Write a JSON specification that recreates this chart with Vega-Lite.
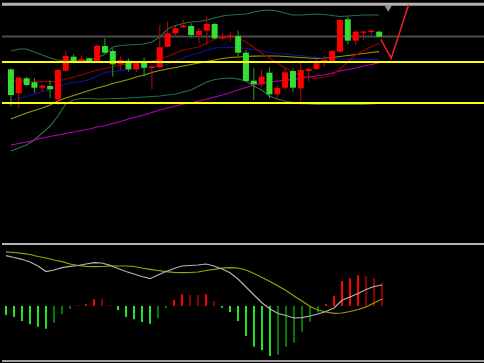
{
  "$schema": "https://vega.github.io/schema/vega-lite/v6.json",
  "background": "#000000",
  "padding": 0,
  "spacing": 0,
  "config": {"view": {"stroke": null}, "axis": {"disable": true}},
  "datasets": {
    "d": [
      {"i":0,"o":172.7,"c":147,"h":173.5,"l":136,"k":"d","ub":191,"lb":91,"m1":161,"m2":141.5,"m3":123,"m4":97,"hs":-9,"hc":"G","md":50.3,"sg":54.2},
      {"i":1,"o":148.7,"c":164.3,"h":165.3,"l":134,"k":"u","ub":193,"lb":94,"m1":161,"m2":143.5,"m3":126,"m4":98.5,"hs":-11,"hc":"G","md":48.5,"sg":53.5},
      {"i":2,"o":163.7,"c":157,"h":165.3,"l":156,"k":"d","ub":193,"lb":97,"m1":161,"m2":145.5,"m3":129,"m4":100,"hs":-15,"hc":"G","md":46.7,"sg":52.7},
      {"i":3,"o":159.7,"c":154.3,"h":164,"l":149,"k":"d","ub":190,"lb":102,"m1":160.5,"m2":148,"m3":131.5,"m4":102,"hs":-18.3,"hc":"G","md":44,"sg":51.5},
      {"i":4,"o":154.3,"c":156.3,"h":158,"l":150.3,"k":"u","ub":187,"lb":109,"m1":160.3,"m2":150.5,"m3":134,"m4":104,"hs":-20.7,"hc":"G","md":40,"sg":49.5},
      {"i":5,"o":156,"c":152.7,"h":162,"l":144,"k":"d","ub":184,"lb":116,"m1":160.3,"m2":153,"m3":137,"m4":105.5,"hs":-22.7,"hc":"G","md":34.5,"sg":48},
      {"i":6,"o":142.7,"c":172,"h":173.7,"l":137,"k":"u","ub":182,"lb":126,"m1":160.5,"m2":155.5,"m3":141,"m4":107,"hs":-16.7,"hc":"g","md":36,"sg":46},
      {"i":7,"o":171.3,"c":186,"h":191.3,"l":170.3,"k":"u","ub":181,"lb":138,"m1":163,"m2":158,"m3":144,"m4":108.5,"hs":-8.3,"hc":"g","md":38.3,"sg":44.3},
      {"i":8,"o":185.3,"c":179.7,"h":187.7,"l":178.7,"k":"d","ub":181,"lb":142,"m1":165,"m2":159.5,"m3":146.5,"m4":110,"hs":-2.7,"hc":"g","md":39.7,"sg":42},
      {"i":9,"o":181,"c":183,"h":186.7,"l":180,"k":"u","ub":181,"lb":143.5,"m1":167,"m2":160.5,"m3":149,"m4":111.5,"hs":1,"hc":"r","md":40.5,"sg":40.5},
      {"i":10,"o":183.7,"c":180.3,"h":184.5,"l":179.5,"k":"d","ub":182,"lb":143.5,"m1":169.5,"m2":162.5,"m3":151.5,"m4":113,"hs":2.3,"hc":"R","md":42,"sg":39.7},
      {"i":11,"o":180.3,"c":196.3,"h":197,"l":179.5,"k":"u","ub":184,"lb":143,"m1":172,"m2":166,"m3":154,"m4":115,"hs":6.7,"hc":"R","md":43.3,"sg":39.3},
      {"i":12,"o":196,"c":189.3,"h":203.7,"l":188.7,"k":"d","ub":188,"lb":143,"m1":173.5,"m2":169.3,"m3":156,"m4":116.5,"hs":6.7,"hc":"r","md":43,"sg":39.5},
      {"i":13,"o":191,"c":177.7,"h":193.7,"l":165.3,"k":"d","ub":195,"lb":143.5,"m1":175.5,"m2":170.5,"m3":158.5,"m4":118.5,"hs":1,"hc":"r","md":40.7,"sg":40},
      {"i":14,"o":177.7,"c":182,"h":185.3,"l":172,"k":"u","ub":196.5,"lb":143.5,"m1":177,"m2":171.3,"m3":160.5,"m4":120.5,"hs":-4.3,"hc":"G","md":37.5,"sg":40},
      {"i":15,"o":181.3,"c":172.7,"h":183.7,"l":170.3,"k":"d","ub":197,"lb":144,"m1":178,"m2":172.5,"m3":162.5,"m4":123,"hs":-11,"hc":"G","md":34.5,"sg":40},
      {"i":16,"o":172.7,"c":178.7,"h":180.3,"l":170.3,"k":"u","ub":197.5,"lb":144.5,"m1":178.5,"m2":173.5,"m3":165,"m4":125,"hs":-13.3,"hc":"G","md":32,"sg":39.5},
      {"i":17,"o":179.3,"c":174.3,"h":184.7,"l":165.3,"k":"d","ub":198,"lb":145,"m1":179.5,"m2":174,"m3":167,"m4":127,"hs":-16,"hc":"G","md":29.5,"sg":38},
      {"i":18,"o":174,"c":175.5,"h":177,"l":152.7,"k":"u","ub":200,"lb":145.5,"m1":181,"m2":174.5,"m3":169.5,"m4":129.5,"hs":-17.7,"hc":"G","md":27.3,"sg":36.7},
      {"i":19,"o":174.7,"c":194.7,"h":217,"l":173.7,"k":"u","ub":205,"lb":146,"m1":183,"m2":175.5,"m3":171.5,"m4":132,"hs":-12.3,"hc":"g","md":31,"sg":35.5},
      {"i":20,"o":195.3,"c":208.7,"h":220.3,"l":194.7,"k":"u","ub":213,"lb":147,"m1":185.5,"m2":178,"m3":173,"m4":134,"hs":-2.3,"hc":"g","md":34.5,"sg":34.3},
      {"i":21,"o":208.7,"c":213.7,"h":216,"l":207,"k":"u","ub":216.5,"lb":148,"m1":189,"m2":181,"m3":174.5,"m4":136,"hs":6,"hc":"R","md":37.5,"sg":33.7},
      {"i":22,"o":214.7,"c":216.5,"h":222,"l":214,"k":"u","ub":218.5,"lb":150,"m1":192,"m2":184,"m3":176,"m4":138,"hs":11.7,"hc":"R","md":40,"sg":33.3},
      {"i":23,"o":216,"c":207,"h":218.7,"l":204.3,"k":"d","ub":220,"lb":152,"m1":193.5,"m2":187,"m3":177.5,"m4":139,"hs":11,"hc":"r","md":40.5,"sg":33.5},
      {"i":24,"o":207,"c":211.3,"h":214,"l":199,"k":"u","ub":220.5,"lb":156,"m1":195,"m2":189,"m3":179,"m4":141,"hs":11,"hc":"r","md":41,"sg":34},
      {"i":25,"o":211.3,"c":218,"h":225.3,"l":197,"k":"u","ub":222,"lb":160,"m1":199,"m2":192,"m3":180.5,"m4":143,"hs":11.7,"hc":"R","md":42,"sg":35.5},
      {"i":26,"o":218,"c":203.7,"h":219.3,"l":202.7,"k":"d","ub":224,"lb":162.5,"m1":203,"m2":194,"m3":182,"m4":145,"hs":5,"hc":"r","md":40,"sg":36.7},
      {"i":27,"o":203.3,"c":204.8,"h":209.3,"l":202.7,"k":"u","ub":226,"lb":163.5,"m1":206,"m2":194.5,"m3":183.5,"m4":147,"hs":-1.7,"hc":"G","md":37,"sg":37.8},
      {"i":28,"o":204.7,"c":206.2,"h":210.3,"l":200.3,"k":"u","ub":227,"lb":164,"m1":206,"m2":194.7,"m3":184.5,"m4":149.5,"hs":-6,"hc":"G","md":33.3,"sg":38.3},
      {"i":29,"o":206,"c":189.3,"h":211.3,"l":186,"k":"d","ub":227.5,"lb":163,"m1":204,"m2":194.5,"m3":185,"m4":152,"hs":-15,"hc":"G","md":27,"sg":38},
      {"i":30,"o":189.3,"c":161,"h":192,"l":160.3,"k":"d","ub":228,"lb":161,"m1":200,"m2":193.5,"m3":185.5,"m4":154.5,"hs":-30,"hc":"G","md":19,"sg":36},
      {"i":31,"o":161.3,"c":158,"h":173.7,"l":142,"k":"d","ub":230,"lb":156,"m1":194.5,"m2":192.5,"m3":185.8,"m4":157,"hs":-40.7,"hc":"G","md":11,"sg":32.5},
      {"i":32,"o":157.7,"c":165.3,"h":172.7,"l":154.7,"k":"u","ub":231.5,"lb":152,"m1":189,"m2":191,"m3":186,"m4":158.5,"hs":-44,"hc":"G","md":3.3,"sg":28.5},
      {"i":33,"o":169.3,"c":147.7,"h":174.7,"l":143.7,"k":"d","ub":232,"lb":146,"m1":184,"m2":189.5,"m3":186,"m4":160,"hs":-50,"hc":"G","md":-3,"sg":24.5},
      {"i":34,"o":147.7,"c":154.3,"h":157,"l":143.7,"k":"u","ub":231,"lb":143,"m1":179,"m2":188.5,"m3":186,"m4":161,"hs":-48.7,"hc":"g","md":-7.5,"sg":20},
      {"i":35,"o":154.3,"c":169.7,"h":173.7,"l":152,"k":"u","ub":229,"lb":141,"m1":174,"m2":188,"m3":185.5,"m4":161.8,"hs":-40.7,"hc":"g","md":-9.5,"sg":15.5},
      {"i":36,"o":171,"c":154.3,"h":173.7,"l":150.3,"k":"d","ub":227,"lb":139.5,"m1":170,"m2":187,"m3":185,"m4":162.5,"hs":-36.7,"hc":"g","md":-12,"sg":10},
      {"i":37,"o":153.7,"c":172,"h":180.3,"l":137,"k":"u","ub":227,"lb":138.5,"m1":166.5,"m2":186.5,"m3":184.5,"m4":163.5,"hs":-25.7,"hc":"g","md":-11.7,"sg":5},
      {"i":38,"o":171,"c":173,"h":175.3,"l":160.3,"k":"u","ub":227.5,"lb":138,"m1":164.5,"m2":185.5,"m3":184,"m4":165,"hs":-15.7,"hc":"g","md":-10,"sg":-0.5},
      {"i":39,"o":173,"c":178.7,"h":183.7,"l":172,"k":"u","ub":228,"lb":137.5,"m1":163.7,"m2":184.7,"m3":183.7,"m4":166,"hs":-6.7,"hc":"g","md":-8,"sg":-4},
      {"i":40,"o":180.8,"c":182.2,"h":186,"l":175.3,"k":"u","ub":227.5,"lb":137.5,"m1":164.5,"m2":184,"m3":184,"m4":167,"hs":2.3,"hc":"R","md":-5.5,"sg":-6},
      {"i":41,"o":180.3,"c":191,"h":192,"l":179.3,"k":"u","ub":226.5,"lb":137.5,"m1":167,"m2":183.5,"m3":184.5,"m4":169,"hs":10,"hc":"R","md":-2,"sg":-7.3},
      {"i":42,"o":190.3,"c":222,"h":222.7,"l":189.7,"k":"u","ub":225.5,"lb":137.5,"m1":173,"m2":183,"m3":185.5,"m4":171,"hs":25,"hc":"R","md":5.7,"sg":-7},
      {"i":43,"o":222.7,"c":201.3,"h":225.3,"l":197.7,"k":"d","ub":226,"lb":137.5,"m1":180,"m2":182.7,"m3":186.5,"m4":172.5,"hs":27.7,"hc":"R","md":9,"sg":-5.5},
      {"i":44,"o":201.3,"c":210.3,"h":212,"l":197,"k":"u","ub":226.5,"lb":137.5,"m1":187,"m2":182.7,"m3":187.5,"m4":174,"hs":30.7,"hc":"R","md":12.5,"sg":-3.5},
      {"i":45,"o":209.2,"c":210.5,"h":211.3,"l":202,"k":"u","ub":227,"lb":137.5,"m1":191.5,"m2":182.7,"m3":188.5,"m4":176,"hs":30,"hc":"r","md":16.5,"sg":-1},
      {"i":46,"o":210,"c":211.3,"h":212.7,"l":207,"k":"u","ub":227,"lb":138,"m1":195.3,"m2":182.7,"m3":189.5,"m4":177.5,"hs":27.7,"hc":"r","md":19.5,"sg":3},
      {"i":47,"o":210.3,"c":205.3,"h":211.3,"l":205,"k":"d","ub":227,"lb":138.5,"m1":198.7,"m2":182.7,"m3":190.3,"m4":179.3,"hs":22.7,"hc":"r","md":21,"sg":7}
    ],
    "proj": [{"i":47.21,"v":202.7},{"i":48.54,"v":183.7},{"i":50.75,"v":237}]
  },
  "vconcat": [
    {
      "width": 484,
      "height": 242,
      "resolve": {"scale": {"color": "independent"}},
      "layer": [
        {
          "data": {"values": [{"v":205.5}]},
          "mark": {"type":"rule","color":"#4a4a4a","strokeWidth":2},
          "encoding": {"y": {"field":"v","type":"quantitative","scale":{"domain":[0,242],"nice":false,"zero":false}}}
        },
        {
          "data": {"values": [{"v":237.7}]},
          "mark": {"type":"rule","color":"#b4b4b4","strokeWidth":3},
          "encoding": {"y": {"field":"v","type":"quantitative","scale":{"domain":[0,242],"nice":false,"zero":false}}}
        },
        {
          "data": {"name":"d"},
          "transform": [{"fold":["ub","lb","m4","m3","m2","m1"],"as":["s","val"]}],
          "mark": {"type":"line","strokeWidth":1.2},
          "encoding": {
            "x": {"field":"i","type":"quantitative","scale":{"domain":[-0.5,60],"nice":false,"zero":false}},
            "y": {"field":"val","type":"quantitative","scale":{"domain":[0,242],"nice":false,"zero":false}},
            "color": {"field":"s","type":"nominal","legend":null,"scale":{"domain":["ub","lb","m1","m2","m3","m4"],"range":["#2c6a4c","#2c6a4c","#960000","#1010a0","#9a9a00","#b400b4"]}}
          }
        },
        {
          "data": {"name":"d"},
          "mark": {"type":"rule","strokeWidth":1},
          "encoding": {
            "x": {"field":"i","type":"quantitative","scale":{"domain":[-0.5,60],"nice":false,"zero":false}},
            "y": {"field":"l","type":"quantitative","scale":{"domain":[0,242],"nice":false,"zero":false}},
            "y2": {"field":"h"},
            "color": {"field":"k","type":"nominal","legend":null,"scale":{"domain":["u","d"],"range":["#b01010","#22a822"]}}
          }
        },
        {
          "data": {"name":"d"},
          "mark": {"type":"bar","width":6},
          "encoding": {
            "x": {"field":"i","type":"quantitative","scale":{"domain":[-0.5,60],"nice":false,"zero":false}},
            "y": {"field":"o","type":"quantitative","scale":{"domain":[0,242],"nice":false,"zero":false}},
            "y2": {"field":"c"},
            "color": {"field":"k","type":"nominal","legend":null,"scale":{"domain":["u","d"],"range":["#ff0000","#33dd33"]}}
          }
        },
        {
          "data": {"values": [{"v":180},{"v":139}]},
          "mark": {"type":"rule","color":"#ffff00","strokeWidth":2},
          "encoding": {"y": {"field":"v","type":"quantitative","scale":{"domain":[0,242],"nice":false,"zero":false}}}
        },
        {
          "data": {"name":"proj"},
          "mark": {"type":"line","color":"#ee2020","strokeWidth":1.5},
          "encoding": {
            "x": {"field":"i","type":"quantitative","scale":{"domain":[-0.5,60],"nice":false,"zero":false}},
            "y": {"field":"v","type":"quantitative","scale":{"domain":[0,242],"nice":false,"zero":false}}
          }
        },
        {
          "data": {"values": [{"i":48.45,"v":185.5}]},
          "mark": {"type":"point","shape":"wedge","angle":151,"filled":true,"color":"#ee2020","size":40,"opacity":1},
          "encoding": {
            "x": {"field":"i","type":"quantitative","scale":{"domain":[-0.5,60],"nice":false,"zero":false}},
            "y": {"field":"v","type":"quantitative","scale":{"domain":[0,242],"nice":false,"zero":false}}
          }
        },
        {
          "data": {"values": [{"i":50.65,"v":235}]},
          "mark": {"type":"point","shape":"wedge","angle":18,"filled":true,"color":"#ee2020","size":40,"opacity":1},
          "encoding": {
            "x": {"field":"i","type":"quantitative","scale":{"domain":[-0.5,60],"nice":false,"zero":false}},
            "y": {"field":"v","type":"quantitative","scale":{"domain":[0,242],"nice":false,"zero":false}}
          }
        },
        {
          "data": {"values": [{"i":48.16,"v":233.5}]},
          "mark": {"type":"point","shape":"triangle-down","filled":true,"color":"#8a98a6","size":60,"opacity":1},
          "encoding": {
            "x": {"field":"i","type":"quantitative","scale":{"domain":[-0.5,60],"nice":false,"zero":false}},
            "y": {"field":"v","type":"quantitative","scale":{"domain":[0,242],"nice":false,"zero":false}}
          }
        }
      ]
    },
    {
      "width": 484,
      "height": 121,
      "resolve": {"scale": {"color": "independent"}},
      "layer": [
        {
          "data": {"values": [{"m":62}]},
          "mark": {"type":"rule","color":"#b4b4b4","strokeWidth":2},
          "encoding": {"y": {"field":"m","type":"quantitative","scale":{"domain":[-58,63],"nice":false,"zero":false}}}
        },
        {
          "data": {"values": [{"m":-55}]},
          "mark": {"type":"rule","color":"#a0a0a0","strokeWidth":2},
          "encoding": {"y": {"field":"m","type":"quantitative","scale":{"domain":[-58,63],"nice":false,"zero":false}}}
        },
        {
          "data": {"name":"d"},
          "mark": {"type":"rule","strokeWidth":2},
          "encoding": {
            "x": {"field":"i","type":"quantitative","scale":{"domain":[-0.5,60],"nice":false,"zero":false}},
            "y": {"field":"hs","type":"quantitative","scale":{"domain":[-58,63],"nice":false,"zero":false}},
            "y2": {"datum":0},
            "color": {"field":"hc","type":"nominal","legend":null,"scale":{"domain":["G","g","R","r"],"range":["#22e022","#007a00","#ff0000","#8c0000"]}}
          }
        },
        {
          "data": {"name":"d"},
          "transform": [{"fold":["sg","md"],"as":["s","val"]}],
          "mark": {"type":"line","strokeWidth":1.2},
          "encoding": {
            "x": {"field":"i","type":"quantitative","scale":{"domain":[-0.5,60],"nice":false,"zero":false}},
            "y": {"field":"val","type":"quantitative","scale":{"domain":[-58,63],"nice":false,"zero":false}},
            "color": {"field":"s","type":"nominal","legend":null,"scale":{"domain":["md","sg"],"range":["#b4b4b4","#a0a000"]}}
          }
        }
      ]
    }
  ]
}
